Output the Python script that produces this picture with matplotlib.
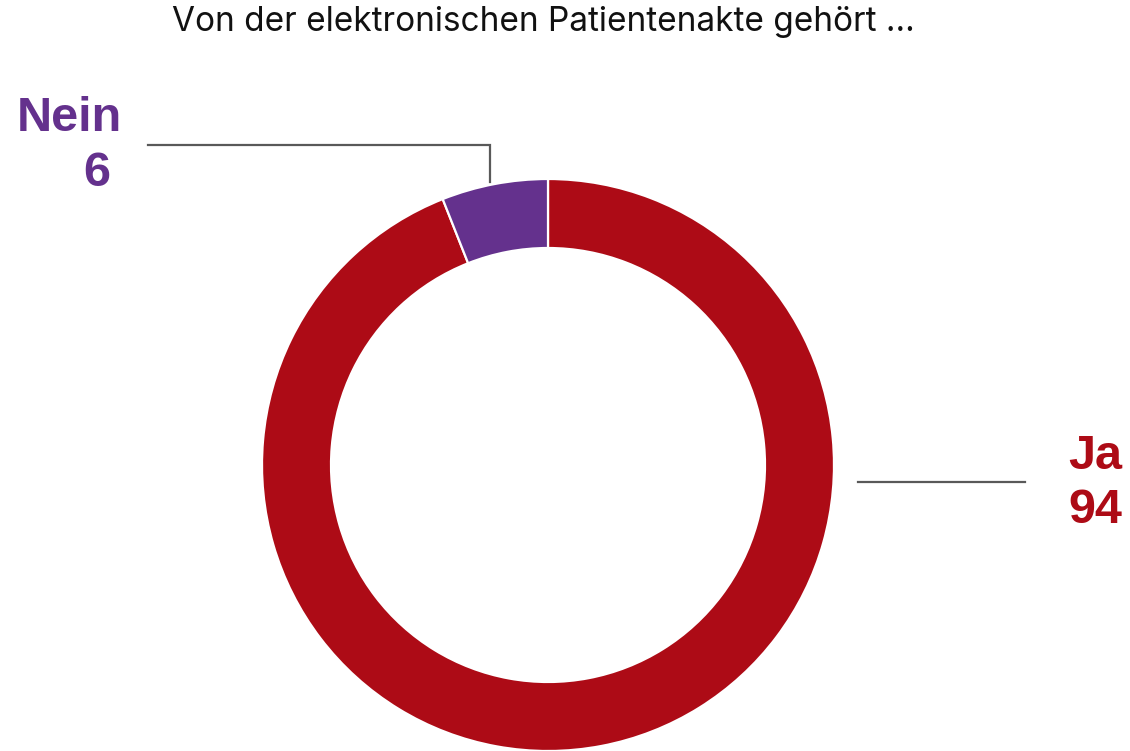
import matplotlib.pyplot as plt

labels = ['Ja', 'Nein']
values = [94, 6]
colors = ['#AD0B16', '#64318D']

W, H = 1130, 751
fig = plt.figure(figsize=(W / 100, H / 100), dpi=100)
ax = fig.add_axes([0, 0, 1, 1])
ax.set_xlim(0, W)
ax.set_ylim(0, H)
ax.set_aspect('equal')
ax.axis('off')

# donut, Ja clockwise from 12 o'clock
ax.pie(values, colors=colors, startangle=90, counterclock=False,
       center=(548, H - 465), radius=286,
       wedgeprops=dict(width=286 - 217, edgecolor='white', linewidth=1.6))
ax.set_xlim(0, W)
ax.set_ylim(0, H)

fig.text(543 / W, 1 - 22 / H, 'Von der elektronischen Patientenakte gehört ...',
         ha='center', va='center', fontsize=24, family='Inter', color='#111111')

# leader lines
ax.plot([148, 490, 490], [H - 145, H - 145, H - 182], color='#595959', lw=1.6,
        solid_joinstyle='miter')
ax.plot([858, 1025], [H - 482, H - 482], color='#595959', lw=1.6)

lab = dict(fontsize=35, fontweight='bold', family='Liberation Sans', va='baseline')
ax.text(17, H - 131, labels[1], color=colors[1], ha='left', **lab)
ax.text(83, H - 186, str(values[1]), color=colors[1], ha='left', **lab)
ax.text(1068, H - 469, labels[0], color=colors[0], ha='left', **lab)
ax.text(1068, H - 523, str(values[0]), color=colors[0], ha='left', **lab)

fig.savefig('out.png', dpi=100)
